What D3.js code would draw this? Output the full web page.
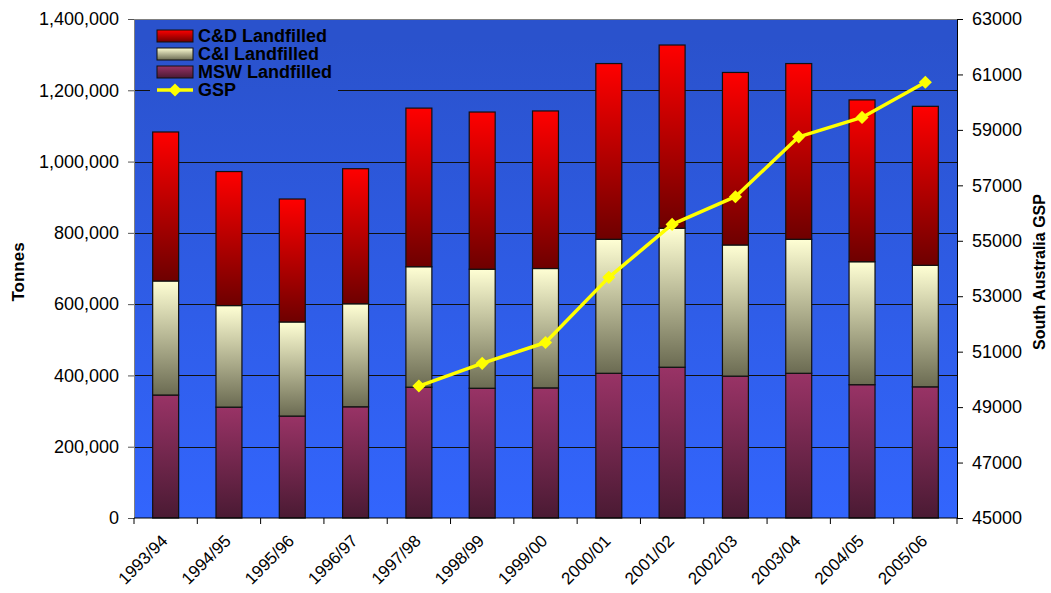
<!DOCTYPE html>
<html>
<head>
<meta charset="utf-8">
<script src="https://cdn.jsdelivr.net/npm/d3@7/dist/d3.min.js"></script>
<style>
  body { margin: 0; background: #fff; }
  text { font-family: "Liberation Sans", Arial, sans-serif; }
</style>
</head>
<body>
<div id="chart"></div>
<script>
// data
const years = ["1993/94","1994/95","1995/96","1996/97","1997/98","1998/99","1999/00",
               "2000/01","2001/02","2002/03","2003/04","2004/05","2005/06"]
const mswLandfilled = [345000,311000,286000,312000,367000,364000,365000,406000,423000,398000,406000,374000,368000]
const cniLandfilled = [320000,285000,264000,289000,338000,334000,335000,376000,390000,368000,376000,345000,341000]
const cndLandfilled = [418000,376000,345000,379000,445000,441000,442000,493000,514000,484000,493000,454000,446000]
const gsp = [null,null,null,null,49760,50580,51330,53680,55590,56590,58750,59450,60720]
const tonnesTicks = [0,200000,400000,600000,800000,1000000,1200000,1400000]
const gspTicks = [45000,47000,49000,51000,53000,55000,57000,59000,61000,63000]

const W = 1051, H = 593
const margin = {top: 19, right: 94, bottom: 75, left: 134}
const width = W - margin.left - margin.right
const height = H - margin.top - margin.bottom

const svg = d3.select("#chart").append("svg")
  .attr("width", W).attr("height", H)

const defs = svg.append("defs")
function vGrad(id, top, bottom, user) {
  let g = defs.append("linearGradient").attr("id", id)
    .attr("x1", 0).attr("x2", 0).attr("y1", 0).attr("y2", 1)
  if (user) {
    g.attr("gradientUnits", "userSpaceOnUse")
      .attr("y1", margin.top).attr("y2", margin.top + height)
  }
  g.append("stop").attr("offset", "0%").attr("stop-color", top)
  g.append("stop").attr("offset", "100%").attr("stop-color", bottom)
}
vGrad("bg", "#2a52cc", "#3366ff", true)
vGrad("g-cnd", "#ff0000", "#6e0000")
vGrad("g-cni", "#ffffd4", "#6b6b52")
vGrad("g-msw", "#993366", "#4a1a33")

const keys = ["cnd", "cni", "msw"]
const fills = {cnd: "url(#g-cnd)", cni: "url(#g-cni)", msw: "url(#g-msw)"}
const labels = {cnd: "C&D Landfilled", cni: "C&I Landfilled", msw: "MSW Landfilled"}

const table = years.map((y, i) => ({year: y, msw: mswLandfilled[i], cni: cniLandfilled[i], cnd: cndLandfilled[i], gsp: gsp[i]}))

// SCALES
const xScale = d3.scaleBand().domain(years).range([0, width]).padding(0)
const yScale = d3.scaleLinear().domain([0, 1400000]).range([height, 0])
const y2Scale = d3.scaleLinear().domain([45000, 63000]).range([height, 0])
const barW = xScale.bandwidth() * 0.41

const g = svg.append("g").attr("transform", "translate(" + margin.left + "," + margin.top + ")")

// plot area
g.append("rect").attr("width", width).attr("height", height).attr("fill", "url(#bg)")

// gridlines
g.append("g").selectAll("line").data(tonnesTicks.slice(1, -1)).join("line")
  .attr("x1", 0).attr("x2", width)
  .attr("y1", d => Math.round(yScale(d)) + 0.5).attr("y2", d => Math.round(yScale(d)) + 0.5)
  .attr("stroke", "#111").attr("stroke-width", 1)

// top border
g.append("line").attr("x1", 0).attr("x2", width).attr("y1", 0.5).attr("y2", 0.5)
  .attr("stroke", "#808080")

// bars
const stacked = d3.stack().keys(["msw", "cni", "cnd"])(table)
g.append("g").selectAll("g").data(stacked).join("g")
  .attr("fill", d => fills[d.key])
  .selectAll("rect").data(d => d).join("rect")
  .attr("x", d => xScale(d.data.year) + (xScale.bandwidth() - barW) / 2)
  .attr("y", d => yScale(d[1]))
  .attr("width", barW)
  .attr("height", d => yScale(d[0]) - yScale(d[1]))
  .attr("stroke", "#111").attr("stroke-width", 1.2)

// GSP line
const gspLine = d3.line()
  .defined(d => d.gsp != null)
  .x(d => xScale(d.year) + xScale.bandwidth() / 2)
  .y(d => y2Scale(d.gsp))
g.append("path").datum(table).attr("d", gspLine)
  .attr("fill", "none").attr("stroke", "#ffff00").attr("stroke-width", 3.5)
  .attr("stroke-linejoin", "round")
const diamond = d3.symbol().type(d3.symbolDiamond2).size(110)
g.append("g").selectAll("path").data(table.filter(d => d.gsp != null)).join("path")
  .attr("d", diamond)
  .attr("transform", d => "translate(" + (xScale(d.year) + xScale.bandwidth() / 2) + "," + y2Scale(d.gsp) + ")")
  .attr("fill", "#ffff00")

// AXES
const fontSize = 18
const yAxis = d3.axisLeft(yScale).tickValues(tonnesTicks).tickSize(6).tickPadding(9)
  .tickFormat(d3.format(","))
const yAxisG = g.append("g").call(yAxis)
yAxisG.select(".domain").attr("stroke", "#808080")
yAxisG.selectAll(".tick line").attr("stroke", "#555")
yAxisG.selectAll("text").attr("font-size", fontSize).attr("fill", "#000")
  .style("font-family", "Liberation Sans, Arial, sans-serif")

const y2Axis = d3.axisRight(y2Scale).tickValues(gspTicks).tickSize(6).tickPadding(9)
  .tickFormat(d3.format("d"))
const y2AxisG = g.append("g").attr("transform", "translate(" + width + ",0)").call(y2Axis)
y2AxisG.select(".domain").attr("stroke", "#000")
y2AxisG.selectAll(".tick line").attr("stroke", "#000")
y2AxisG.selectAll("text").attr("font-size", fontSize).attr("fill", "#000")
  .style("font-family", "Liberation Sans, Arial, sans-serif")

const xAxisG = g.append("g").attr("transform", "translate(0," + height + ")")
xAxisG.append("line").attr("x1", 0).attr("x2", width).attr("stroke", "#000")
xAxisG.selectAll("line.tk").data(d3.range(years.length + 1)).join("line")
  .attr("class", "tk")
  .attr("x1", i => i * xScale.step()).attr("x2", i => i * xScale.step())
  .attr("y1", 0).attr("y2", 6).attr("stroke", "#000")
// labels pulled up a touch so they stay inside the frame
xAxisG.selectAll("text").data(years).join("text")
  .attr("transform", d => "translate(" + (xScale(d) + xScale.bandwidth() / 2 + 3) + ",24) rotate(-45)")
  .attr("text-anchor", "end")
  .attr("font-size", 17)
  .text(d => d)

// axis titles
svg.append("text")
  .attr("transform", "translate(24,272) rotate(-90)")
  .attr("text-anchor", "middle").attr("font-weight", "bold").attr("font-size", 17)
  .text("Tonnes")
svg.append("text")
  .attr("transform", "translate(1045,272) rotate(-90)")
  .attr("text-anchor", "middle").attr("font-weight", "bold").attr("font-size", 16)
  .text("South Australia GSP")

// LEGEND
const legend = svg.append("g").attr("transform", "translate(150,22)")
legend.append("rect").attr("width", 188).attr("height", 78).attr("fill", "url(#bg)")
  .attr("y", 0)
const legendItems = keys.map(k => ({key: k, label: labels[k]}))
legendItems.forEach((d, i) => {
  let row = legend.append("g").attr("transform", "translate(7," + (14 + i * 18) + ")")
  row.append("rect").attr("x", 0).attr("y", -6).attr("width", 36).attr("height", 12)
    .attr("fill", fills[d.key]).attr("stroke", "#111")
  row.append("text").attr("x", 41).attr("dy", "0.36em")
    .attr("font-weight", "bold").attr("font-size", 18).text(d.label)
})
let gspRow = legend.append("g").attr("transform", "translate(7," + (14 + 3 * 18) + ")")
gspRow.append("line").attr("x1", 0).attr("x2", 36).attr("stroke", "#ffff00").attr("stroke-width", 3.5)
gspRow.append("path").attr("d", diamond).attr("transform", "translate(18,0)").attr("fill", "#ffff00")
gspRow.append("text").attr("x", 41).attr("dy", "0.36em")
  .attr("font-weight", "bold").attr("font-size", 18).text("GSP")
</script>
</body>
</html>
